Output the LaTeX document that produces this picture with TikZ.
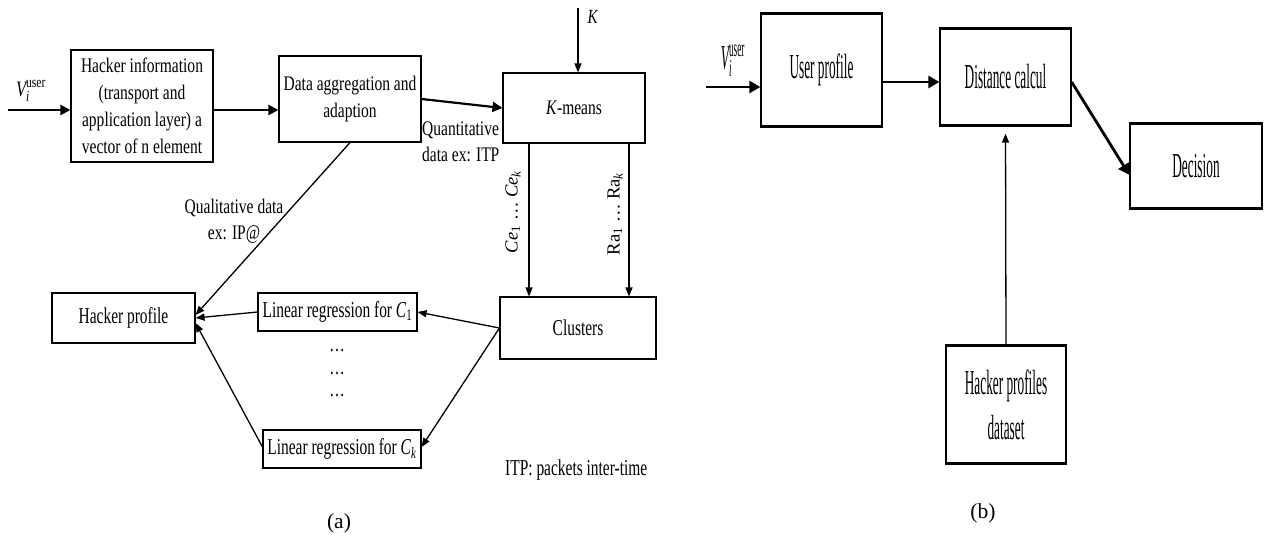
\documentclass[tikz,border=0pt]{standalone}
\usepackage{amsmath}
\usepackage{fontspec}
\setmainfont{Liberation Serif}
\newfontfamily\fa[FakeStretch=0.75]{Liberation Serif}
\newfontfamily\fb[FakeStretch=0.68]{Liberation Serif}
\newfontfamily\fc[FakeStretch=0.38]{Liberation Serif}
\usetikzlibrary{arrows.meta}
\tikzset{
  boxa/.style={draw, line width=1.1pt, inner sep=0pt, align=center,
    font=\fa\fontsize{20.7}{27}\selectfont},
  boxsm/.style={boxa, font=\fb\fontsize{22.7}{26}\selectfont},
  boxb/.style={draw, line width=1.3pt, inner sep=0pt, align=center,
    font=\fc\fontsize{35}{45}\selectfont},
  lbl/.style={inner sep=0pt, align=center, font=\fa\fontsize{20.7}{26}\selectfont},
  lblsm/.style={inner sep=0pt, font=\fb\fontsize{22.7}{26}\selectfont},
  capt/.style={inner sep=0pt, font=\fontsize{21.5}{24}\selectfont},
  arrbig/.style={-{Triangle[length=10pt,width=10pt]}, line width=2.2pt},
  arrthin/.style={-{Triangle[length=9pt,width=7pt]}, line width=1.3pt},
  arrb/.style={-{Triangle[length=11pt,width=12pt]}, line width=2.8pt}
}
\begin{document}
\begin{tikzpicture}[x=1pt,y=-1pt]
  \useasboundingbox (0,0) rectangle (1264,538);
  % (a): building the hacker profiles
  \begin{scope}
    \node[boxa, minimum width=142pt, minimum height=112pt] (hinfo) at (142,106)
      {Hacker information\\(transport and\\application layer) a\\vector of n element};
    \node[boxa, minimum width=142pt, minimum height=86pt] (dagg) at (350,99)
      {Data aggregation and\\adaption};
    \node[boxa, minimum width=142pt, minimum height=70pt] (kmeans) at (574,108)
      {\textit{K}-means};
    \node[boxsm, minimum width=156pt, minimum height=62pt] (clusters) at (578,328)
      {Clusters};
    \node[boxsm, minimum width=159pt, minimum height=38pt] (lr1) at (337.5,312)
      {Linear regression for \textit{C}\textsubscript{1}};
    \node[boxsm, minimum width=158pt, minimum height=38pt] (lrk) at (342,449)
      {Linear regression for \textit{C}\textsubscript{\textit{k}}};
    \node[boxsm, minimum width=143pt, minimum height=50pt] (hprof) at (123.5,318)
      {Hacker profile};
    \foreach \y [count=\i] in {350,373,395}
      \node[lblsm] (dots\i) at (337,\y) {\ldots};

    \coordinate (vina) at (8,110);
    \coordinate (kin) at (578,8);
    \coordinate (ce) at (529,0);
    \coordinate (ra) at (629,0);

    \node[inner sep=0pt, font=\fa\fontsize{22}{24}\selectfont] (va) at (31,91)
      {$\textit{V}_{\textit{i}}^{\text{user}}$};
    \node[inner sep=0pt, font=\fa\fontsize{20}{22}\selectfont] (klbl) at (593,17) {\textit{K}};
    \node[lbl, anchor=west, align=left] (quant) at (422,142) {Quantitative\\data ex: ITP};
    \node[lbl] (qual) at (234,221) {Qualitative data\\ex: IP@};
    \node[inner sep=0pt, rotate=90, font=\fontsize{18.5}{20}\selectfont] (celbl) at (513,212)
      {\textit{Ce}\textsubscript{1} \ldots{} \textit{Ce}\textsubscript{\textit{k}}};
    \node[inner sep=0pt, rotate=90, font=\fontsize{18.5}{20}\selectfont] (ralbl) at (615,214)
      {Ra\textsubscript{1} \ldots{} Ra\textsubscript{\textit{k}}};
    \node[lblsm, anchor=west] (itp) at (505,470) {ITP: packets inter-time};
    \node[capt] (capa) at (339,523) {(a)};

    \draw[arrbig] (vina) -- (vina -| hinfo.west);
    \draw[arrbig] (hinfo.east |- vina) -- (dagg.west |- vina);
    \draw[arrbig] (dagg.east) -- (kmeans.west);
    \draw[arrthin] (kin) -- (kin |- kmeans.north);
    \draw[arrthin] (kmeans.south -| ce) -- (clusters.north -| ce);
    \draw[arrthin] (kmeans.south -| ra) -- (clusters.north -| ra);
    \draw[arrthin] (dagg.south) -- ([yshift=3pt]hprof.east);
    \draw[arrthin] (clusters.west) -- (lr1.east);
    \draw[arrthin] (clusters.west) -- ([yshift=2pt]lrk.east);
    \draw[arrthin] (lr1.west) -- (hprof.east);
    \draw[arrthin] ([yshift=2pt]lrk.west) -- ([yshift=-5pt]hprof.east);
  \end{scope}
  % (b): checking a user against the profiles
  \begin{scope}
    \node[boxb, minimum width=121pt, minimum height=112pt] (user) at (821.5,70) {User profile};
    \node[boxb, minimum width=131pt, minimum height=96pt] (dist) at (1005.5,77) {Distance calcul};
    \node[boxb, minimum width=132pt, minimum height=84pt] (dec) at (1196,166) {Decision};
    \node[boxb, minimum width=120pt, minimum height=117pt] (hpd) at (1006,404.5)
      {Hacker profiles\\dataset};
    \foreach \n in {user,dist,dec,hpd} {
      \draw[line width=3pt] (\n.north west) -- (\n.north east);
      \draw[line width=3pt] (\n.south west) -- (\n.south east);
    }

    \coordinate (vinb) at (706,87);
    \coordinate (ud) at (0,82);

    \node[inner sep=0pt, font=\fc\fontsize{35}{36}\selectfont] (vb) at (733,61)
      {$\textit{V}_{\textit{i}}^{\text{user}}$};
    \node[capt] (capb) at (983,513) {(b)};

    \draw[arrb] (vinb) -- (vinb -| user.west);
    \draw[arrb] (user.east |- ud) -- (dist.west |- ud);
    \draw[arrb] ([yshift=-5pt]dist.east) -- ([yshift=-9pt]dec.west);
    \draw[arrthin, shorten >=8pt] (hpd.north) -- (dist.south);
  \end{scope}
\end{tikzpicture}
\end{document}
